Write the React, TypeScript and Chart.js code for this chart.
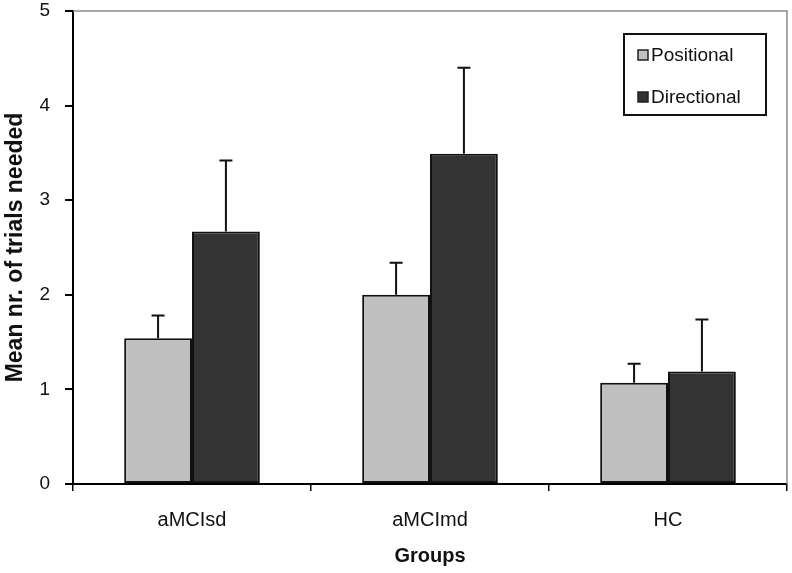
import { useEffect, useRef } from "react";
import { Chart, registerables } from "chart.js";

Chart.register(...registerables);

const groups = ["aMCIsd", "aMCImd", "HC"];
const seriesNames = ["Positional", "Directional"];
const positional = [1.54, 2.0, 1.07];
const positionalErr = [0.24, 0.34, 0.2];
const directional = [2.67, 3.49, 1.19];
const directionalErr = [0.75, 0.91, 0.55];
const yTicks = [0, 1, 2, 3, 4, 5];
const seriesColors = ["#c0c0c0", "#333333"];

const FONT = "'Liberation Sans', Arial, sans-serif";

const errorBarPlugin = {
  id: "errorBars",
  afterDatasetsDraw(chart: any) {
    const ctx = chart.ctx;
    const yScale = chart.scales.y;
    ctx.save();
    ctx.strokeStyle = "#111";
    ctx.lineWidth = 2;
    chart.data.datasets.forEach((ds: any, i: number) => {
      const meta = chart.getDatasetMeta(i);
      meta.data.forEach((el: any, j: number) => {
        const v = ds.data[j];
        const e = ds.errors[j];
        const yTop = yScale.getPixelForValue(v + e);
        ctx.beginPath();
        ctx.moveTo(el.x, el.y);
        ctx.lineTo(el.x, yTop);
        ctx.moveTo(el.x - 6.5, yTop);
        ctx.lineTo(el.x + 6.5, yTop);
        ctx.stroke();
      });
    });
    ctx.restore();
  },
};

const frameAndLegendPlugin = {
  id: "frameLegend",
  afterDraw(chart: any) {
    const ctx = chart.ctx;
    const a = chart.chartArea;
    ctx.save();
    ctx.strokeStyle = "#8c8c8c";
    ctx.lineWidth = 1.5;
    ctx.beginPath();
    ctx.moveTo(a.left, a.top);
    ctx.lineTo(a.right, a.top);
    ctx.lineTo(a.right, a.bottom);
    ctx.stroke();

    const bx = 624, by = 34, bw = 142, bh = 81;
    ctx.fillStyle = "#fff";
    ctx.fillRect(bx, by, bw, bh);
    ctx.strokeStyle = "#111";
    ctx.lineWidth = 2;
    ctx.strokeRect(bx, by, bw, bh);
    const rows = [55, 97];
    ctx.font = `19px ${FONT}`;
    ctx.textBaseline = "middle";
    chart.data.datasets.forEach((ds: any, i: number) => {
      const cy = rows[i];
      ctx.fillStyle = ds.backgroundColor;
      ctx.fillRect(638, cy - 5, 10, 10);
      ctx.strokeStyle = "#222";
      ctx.lineWidth = 1.5;
      ctx.strokeRect(638, cy - 5, 10, 10);
      ctx.fillStyle = "#111";
      ctx.fillText(ds.label, 651, cy + 1);
    });
    ctx.restore();
  },
};

export default function App() {
  const canvasRef = useRef<HTMLCanvasElement | null>(null);

  useEffect(() => {
    if (!canvasRef.current) return;
    const chart = new Chart(canvasRef.current, {
      type: "bar",
      data: {
        labels: groups,
        datasets: [
          {
            label: seriesNames[0],
            data: positional,
            errors: positionalErr,
            backgroundColor: seriesColors[0],
            borderColor: "#111",
            borderWidth: 2,
            borderSkipped: false,
            categoryPercentage: 0.57,
            barPercentage: 1.0,
          } as any,
          {
            label: seriesNames[1],
            data: directional,
            errors: directionalErr,
            backgroundColor: seriesColors[1],
            borderColor: "#111",
            borderWidth: 2,
            borderSkipped: false,
            categoryPercentage: 0.57,
            barPercentage: 1.0,
          } as any,
        ],
      },
      options: {
        responsive: false,
        animation: false,
        layout: { padding: { left: 0, right: 5, top: 11, bottom: 0 } },
        plugins: {
          legend: { display: false },
          tooltip: { enabled: false },
        },
        scales: {
          x: {
            afterFit: (s: any) => {
              s.height = 89;
              s.paddingLeft = 0;
              s.paddingRight = 0;
            },
            grid: {
              display: true,
              offset: true,
              drawOnChartArea: false,
              drawTicks: true,
              tickLength: 7,
              color: "#000",
              lineWidth: 1.5,
            },
            border: { display: true, color: "#000", width: 2 },
            ticks: {
              color: "#111",
              padding: 17,
              font: { family: FONT, size: 20 },
            },
            title: {
              display: true,
              text: "Groups",
              color: "#111",
              font: { family: FONT, size: 20, weight: "bold" },
              padding: { top: 0, bottom: 5 },
            },
          },
          y: {
            min: 0,
            max: 5,
            afterFit: (s: any) => {
              s.width = 73;
              s.paddingTop = 0;
              s.paddingBottom = 0;
            },
            afterBuildTicks: (s: any) => {
              s.ticks = yTicks.map((v) => ({ value: v }));
            },
            grid: {
              display: true,
              drawOnChartArea: false,
              drawTicks: true,
              tickLength: 8,
              color: "#000",
              lineWidth: 2,
            },
            border: { display: true, color: "#000", width: 2 },
            ticks: {
              color: "#111",
              padding: 15,
              stepSize: 1,
              font: { family: FONT, size: 19 },
            },
            title: {
              display: true,
              text: "Mean nr. of trials needed",
              color: "#111",
              font: { family: FONT, size: 23, weight: "bold" },
              padding: { top: 2, bottom: 0 },
            },
          },
        },
      },
      plugins: [errorBarPlugin, frameAndLegendPlugin],
    });
    return () => chart.destroy();
  }, []);

  return (
    <div style={{ position: "absolute", left: 0, top: 0, width: 792, height: 573, background: "#fff" }}>
      <canvas ref={canvasRef} width={792} height={573} style={{ display: "block" }} />
    </div>
  );
}
